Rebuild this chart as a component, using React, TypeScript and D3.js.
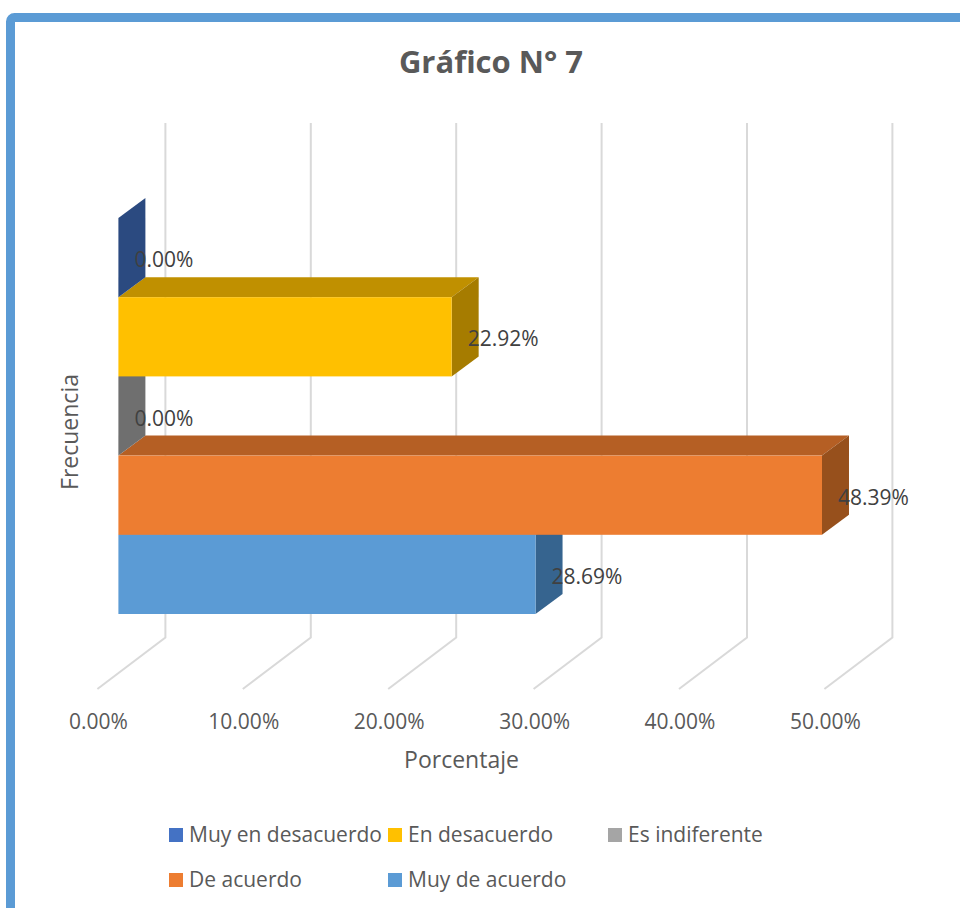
import React from "react";
import * as d3 from "d3";

const categories = ["Muy de acuerdo", "De acuerdo", "Es indiferente", "En desacuerdo", "Muy en desacuerdo"];
const values = [28.69, 48.39, 0, 22.92, 0];
const colors = ["#5B9BD5", "#ED7D31", "#A5A5A5", "#FFC000", "#4472C4"];
const topColors = ["#4A7CAB", "#B55F24", "#7C7C7C", "#C09000", "#2F5597"];
const sideColors = ["#36648F", "#97501C", "#6F6F6F", "#A67C00", "#2B4A80"];
const ticks = [0, 10, 20, 30, 40, 50];
const legendOrder = ["Muy en desacuerdo", "En desacuerdo", "Es indiferente", "De acuerdo", "Muy de acuerdo"];
const legendX = [169, 388, 608, 169, 388];
const legendY = [835, 835, 835, 880, 880];

const FONT = "'Open Sans', sans-serif";
const TEXT = "#595959";
const BORDER = "#5B9BD5";

export default function App() {
  const xBack = d3.scaleLinear().domain([0, 50]).range([165.4, 892.4]);
  const y = d3.scaleBand<string>().domain(categories).range([614, 218]).paddingInner(0).paddingOuter(0);
  const dx = 27;
  const dy = -20;
  const barOff = -47;
  const poly = (pts: [number, number][]) => pts.map((p) => p.join(",")).join(" ");
  const order = d3.range(categories.length);

  return (
    <svg width={960} height={908} style={{ position: "absolute", left: 0, top: 0, background: "#fff" }} fontFamily={FONT}>
      <rect x={10.5} y={17.5} width={1000} height={950} rx={4} fill="#fff" stroke={BORDER} strokeWidth={9} />
      <text x={491} y={73} textAnchor="middle" fontSize={31} fontWeight={700} fill={TEXT}>Gráfico N° 7</text>

      {ticks.map((t) => (
        <g key={t}>
          <polyline
            points={poly([[xBack(t), 123], [xBack(t), 637.5], [xBack(t) - 68, 689]])}
            fill="none" stroke="#D9D9D9" strokeWidth={2}
          />
          <text x={xBack(t) - 67} y={728.5} textAnchor="middle" fontSize={21} fill={TEXT}>{d3.format(".2f")(t)}%</text>
        </g>
      ))}

      {order.map((i) => {
        const c = categories[i];
        const x0 = xBack(0) + barOff;
        const x1 = xBack(values[i]) + barOff;
        const yT = y(c)!;
        const yB = yT + y.bandwidth();
        return (
          <g key={c}>
            <polygon points={poly([[x0, yT], [x1, yT], [x1 + dx, yT + dy], [x0 + dx, yT + dy]])} fill={topColors[i]} />
            <polygon points={poly([[x1, yT], [x1 + dx, yT + dy], [x1 + dx, yB + dy], [x1, yB]])} fill={sideColors[i]} />
            <rect x={x0} y={yT} width={Math.max(0, x1 - x0)} height={y.bandwidth()} fill={colors[i]} />
          </g>
        );
      })}

      {categories.map((c, i) => (
        <text key={c} x={xBack(values[i]) + barOff + 16} y={y(c)! + y.bandwidth() / 2 + dy + 29.5} fontSize={21} fill="#404040">
          {d3.format(".2f")(values[i])}%
        </text>
      ))}

      <text transform="translate(78,432) rotate(-90)" textAnchor="middle" fontSize={23} fill={TEXT}>Frecuencia</text>
      <text x={461.5} y={768} textAnchor="middle" fontSize={23} fill={TEXT}>Porcentaje</text>

      {legendOrder.map((l, i) => (
        <g key={l}>
          <rect x={legendX[i]} y={legendY[i] - 7} width={14} height={14} fill={colors[categories.indexOf(l)]} />
          <text x={legendX[i] + 20} y={legendY[i] + 7} fontSize={21} fill={TEXT}>{l}</text>
        </g>
      ))}
    </svg>
  );
}
